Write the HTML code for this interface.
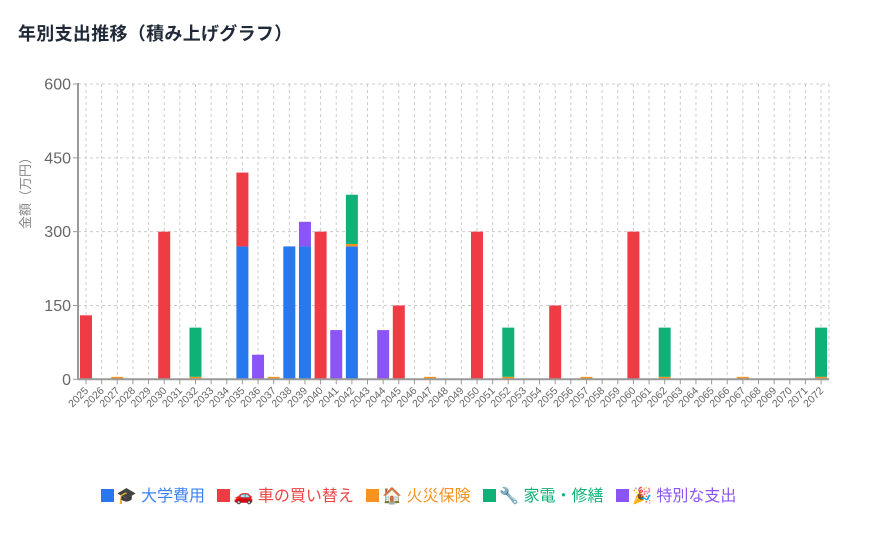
<!DOCTYPE html>
<html><head><meta charset="utf-8"><style>
body{margin:0;background:#fff;width:871px;height:535px;overflow:hidden;font-family:"Liberation Sans","Noto Sans CJK JP",sans-serif;}
.t{position:absolute;left:18px;top:20px;font-size:18px;font-weight:bold;color:#1f2937;letter-spacing:0.3px}
.lg{position:absolute;top:482px;left:-17px;width:871px;text-align:center;font-size:16px;white-space:nowrap}
.lg span{margin:0 4px}
.sq{display:inline-block;width:13px;height:13px;vertical-align:-1px;margin-right:3px}
</style></head><body>
<div class="t">年別支出推移（積み上げグラフ）</div>
<svg id="c" width="871" height="535" style="position:absolute;left:0;top:0"></svg>
<div class="lg">
<span style="color:#3b82f6"><i class="sq" style="background:#2777ee"></i>🎓 大学費用</span>
<span style="color:#ef4444"><i class="sq" style="background:#ef3b44"></i>🚗 車の買い替え</span>
<span style="color:#f7931e"><i class="sq" style="background:#f7931e"></i>🏠 火災保険</span>
<span style="color:#10b176"><i class="sq" style="background:#10b176"></i>🔧 家電・修繕</span>
<span style="color:#8b55f6"><i class="sq" style="background:#8b55f6"></i>🎉 特別な支出</span>
</div>
<script>
var s='',X0=78,X1=829,Y0=379.3,Y6=84,k=(Y0-Y6)/600;
function x(i){return 86+i*15.64;}
function y(v){return Y0-v*k;}
for(var i=0;i<48;i++){s+='<line x1="'+x(i)+'" y1="'+Y6+'" x2="'+x(i)+'" y2="'+Y0+'" stroke="#ccc" stroke-dasharray="3,3"/>';}
s+='<line x1="'+X1+'" y1="'+Y6+'" x2="'+X1+'" y2="'+Y0+'" stroke="#ccc" stroke-dasharray="3,3"/>';
[150,300,450,600].forEach(function(v){s+='<line x1="'+X0+'" y1="'+y(v)+'" x2="'+X1+'" y2="'+y(v)+'" stroke="#ccc" stroke-dasharray="3,3"/>';});
var C={b:'#2777ee',r:'#ef3b44',o:'#f7931e',g:'#10b176',p:'#8b55f6'};
var D={2025:[['r',130]],2027:[['o',5]],2030:[['r',300]],2032:[['o',5],['g',100]],2035:[['b',270],['r',150]],2036:[['p',50]],2037:[['o',5]],2038:[['b',270]],2039:[['b',270],['p',50]],2040:[['r',300]],2041:[['p',100]],2042:[['b',270],['o',5],['g',100]],2044:[['p',100]],2045:[['r',150]],2047:[['o',5]],2050:[['r',300]],2052:[['o',5],['g',100]],2055:[['r',150]],2057:[['o',5]],2060:[['r',300]],2062:[['o',5],['g',100]],2067:[['o',5]],2072:[['o',5],['g',100]]};
for(var yr in D){var c=x(yr-2025),acc=0;D[yr].forEach(function(e){var t=y(acc+e[1]),b=y(acc);s+='<rect x="'+(c-6)+'" y="'+t+'" width="12" height="'+(b-t)+'" fill="'+C[e[0]]+'"/>';acc+=e[1];});}
s+='<line x1="'+X0+'" y1="'+(Y6-1)+'" x2="'+X0+'" y2="'+Y0+'" stroke="#999" stroke-width="2"/>';
s+='<line x1="'+X0+'" y1="'+Y0+'" x2="'+X1+'" y2="'+Y0+'" stroke="#999" stroke-width="2"/>';
[0,150,300,450,600].forEach(function(v){s+='<line x1="'+(X0-5)+'" y1="'+y(v)+'" x2="'+X0+'" y2="'+y(v)+'" stroke="#999"/><text x="'+(X0-7)+'" y="'+(y(v)+5.5)+'" text-anchor="end" font-size="16" fill="#666">'+v+'</text>';});
for(var i=0;i<48;i++){s+='<line x1="'+x(i)+'" y1="'+Y0+'" x2="'+x(i)+'" y2="'+(Y0+5)+'" stroke="#999"/><text transform="translate('+(x(i)+3)+','+(Y0+12)+') rotate(-45)" text-anchor="end" font-size="10.5" fill="#666">'+(2025+i)+'</text>';}
s+='<text transform="translate(30,190) rotate(-90)" text-anchor="middle" font-size="13" fill="#888">金額（万円）</text>';
document.getElementById('c').innerHTML=s;
</script>
</body></html>
